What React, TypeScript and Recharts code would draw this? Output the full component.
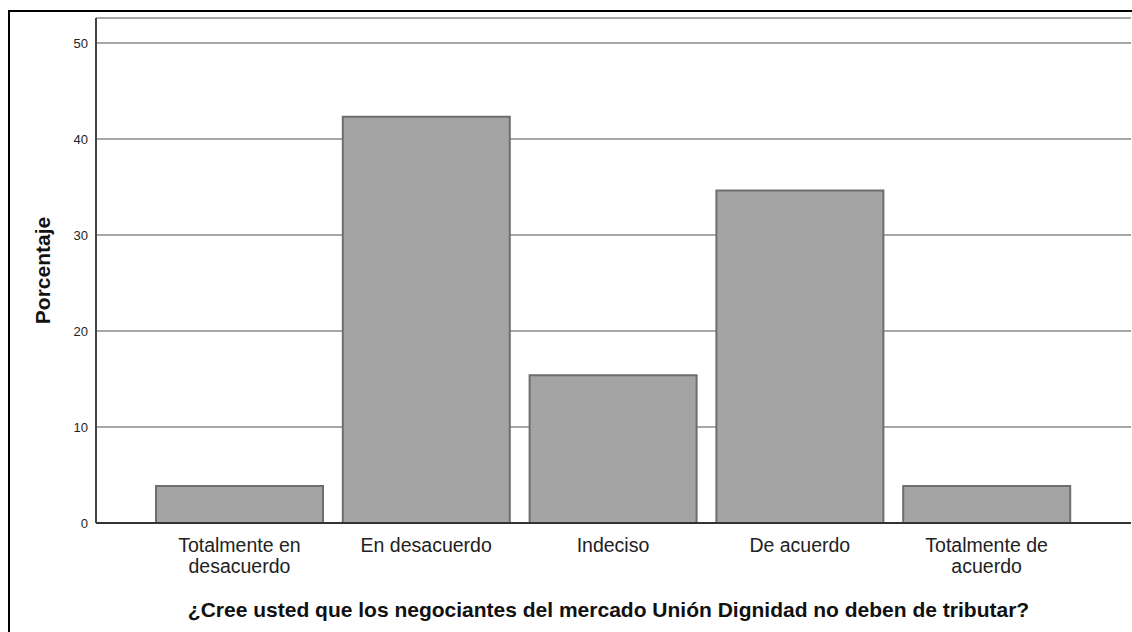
import React from 'react';
import { BarChart, Bar, XAxis, YAxis, CartesianGrid } from 'recharts';

const categories: string[] = [
  'Totalmente en\ndesacuerdo',
  'En desacuerdo',
  'Indeciso',
  'De acuerdo',
  'Totalmente de\nacuerdo',
];
const percentages: number[] = [3.85, 42.31, 15.38, 34.62, 3.85];
const yTicks: number[] = [0, 10, 20, 30, 40, 50];
const yTitle = 'Porcentaje';
const xTitle = '¿Cree usted que los negociantes del mercado Unión Dignidad no deben de tributar?';

const data = categories.map((c, i) => ({ name: c, value: percentages[i] }));

const FONT = "Arial, 'Liberation Sans', sans-serif";

const XTick = (props: any) => {
  const { x, y, payload } = props;
  const lines: string[] = String(payload.value).split('\n');
  return (
    <text x={x} y={y} textAnchor="middle" fill="#222" fontSize={19.5} fontFamily={FONT}>
      {lines.map((l, i) => (
        <tspan key={i} x={x} dy={21}>
          {l}
        </tspan>
      ))}
    </text>
  );
};

export default function App() {
  return (
    <div
      style={{
        position: 'fixed',
        left: 8,
        top: 8,
        width: 1124,
        height: 624,
        overflow: 'hidden',
        background: '#fff',
      }}
    >
      <div
        style={{
          marginTop: 2,
          borderTop: '2px solid #000',
          borderLeft: '2px solid #000',
          width: 1140,
          height: 640,
          background: '#fff',
        }}
      >
        <BarChart
          width={1122}
          height={620}
          data={data}
          margin={{ top: 6, right: 1, left: 0, bottom: 0 }}
          barCategoryGap={10}
        >
          <CartesianGrid horizontal vertical={false} stroke="#8a8a8a" strokeWidth={1.5} />
          <XAxis
            dataKey="name"
            height={109}
            padding={{ left: 50, right: 51 }}
            tickLine={false}
            axisLine={{ stroke: '#333', strokeWidth: 2 }}
            tick={<XTick />}
            interval={0}
            label={{
              value: xTitle,
              position: 'center',
              dy: 32,
              dx: -5,
              style: { fontWeight: 'bold', fontSize: 21, fill: '#111', fontFamily: FONT },
            }}
          />
          <YAxis
            width={86}
            domain={[0, 52.6]}
            ticks={yTicks}
            allowDataOverflow
            tickLine={false}
            axisLine={{ stroke: '#444', strokeWidth: 2 }}
            tick={{ fill: '#222', fontSize: 13, fontFamily: FONT }}
            label={{
              value: yTitle,
              angle: -90,
              position: 'center',
              dx: -10,
              style: { fontWeight: 'bold', fontSize: 21, fill: '#111', fontFamily: FONT },
            }}
          />
          <Bar dataKey="value" fill="#a4a4a4" stroke="#6e6e6e" strokeWidth={2} isAnimationActive={false} />
        </BarChart>
      </div>
    </div>
  );
}
